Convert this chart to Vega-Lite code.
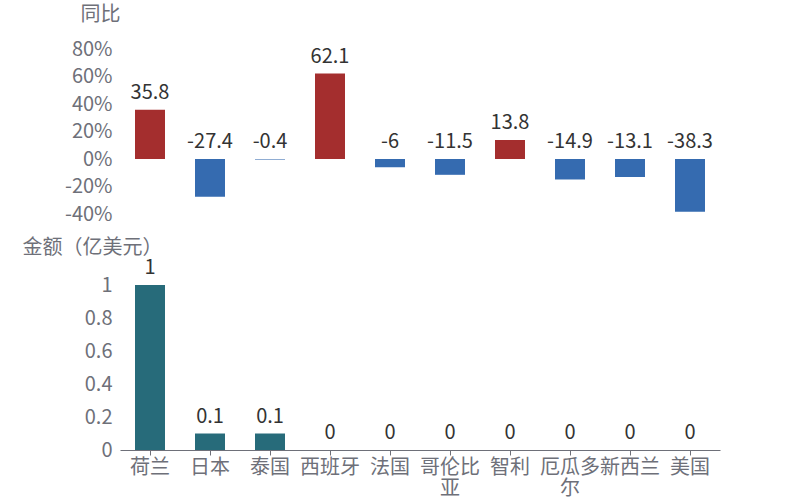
{
  "$schema": "https://vega.github.io/schema/vega-lite/v6.json",
  "padding": {"left": 22, "top": 4, "right": 5, "bottom": 0},
  "bounds": "flush",
  "spacing": 71,
  "config": {
    "view": {"stroke": null},
    "font": "Noto Sans CJK SC",
    "axis": {"grid": false, "labelFont": "Noto Sans CJK SC", "titleFont": "Noto Sans CJK SC", "labelOverlap": false}
  },
  "data": {
    "values": [
      {"country": "荷兰", "yoy": 35.8, "amount": 1},
      {"country": "日本", "yoy": -27.4, "amount": 0.1},
      {"country": "泰国", "yoy": -0.4, "amount": 0.1},
      {"country": "西班牙", "yoy": 62.1, "amount": 0},
      {"country": "法国", "yoy": -6, "amount": 0},
      {"country": "哥伦比亚", "yoy": -11.5, "amount": 0},
      {"country": "智利", "yoy": 13.8, "amount": 0},
      {"country": "厄瓜多尔", "yoy": -14.9, "amount": 0},
      {"country": "新西兰", "yoy": -13.1, "amount": 0},
      {"country": "美国", "yoy": -38.3, "amount": 0}
    ]
  },
  "vconcat": [
    {
      "width": 600,
      "height": 165,
      "encoding": {
        "x": {"field": "country", "type": "nominal", "sort": null, "axis": null,
              "scale": {"paddingInner": 0.5, "paddingOuter": 0.25}}
      },
      "layer": [
        {
          "mark": {"type": "bar"},
          "encoding": {
            "y": {"field": "yoy", "type": "quantitative",
                  "scale": {"domain": [-40, 80], "nice": false},
                  "axis": {
                    "values": [-40, -20, 0, 20, 40, 60, 80],
                    "tickCount": 20,
                    "labelExpr": "datum.value + '%'",
                    "labelOverlap": false,
                    "domain": false, "ticks": false,
                    "labelFontSize": 20, "labelColor": "#6e7079", "labelPadding": 8,
                    "title": "同比", "titleAngle": 0, "titleFontSize": 20, "titleFontWeight": "normal",
                    "titleColor": "#6e7079", "titleX": -20, "titleY": -35,
                    "titleAlign": "center", "titleBaseline": "middle"
                  }},
            "color": {"condition": {"test": "datum.yoy > 0", "value": "#a42e2e"}, "value": "#356bb0"}
          }
        },
        {
          "transform": [{"filter": "datum.yoy > 0"}],
          "mark": {"type": "text", "fontSize": 20, "color": "#333333", "baseline": "middle", "dy": -17},
          "encoding": {
            "y": {"field": "yoy", "type": "quantitative"},
            "text": {"field": "yoy", "type": "nominal"}
          }
        },
        {
          "transform": [{"filter": "datum.yoy <= 0"}],
          "mark": {"type": "text", "fontSize": 20, "color": "#333333", "baseline": "middle", "dy": -17},
          "encoding": {
            "y": {"datum": 0, "type": "quantitative"},
            "text": {"field": "yoy", "type": "nominal"}
          }
        }
      ]
    },
    {
      "width": 600,
      "height": 165,
      "encoding": {
        "x": {"field": "country", "type": "nominal", "sort": null,
              "scale": {"paddingInner": 0.5, "paddingOuter": 0.25},
              "axis": {
                "title": null, "labelAngle": 0, "labelFontSize": 20, "labelColor": "#6e7079",
                "domainColor": "#6e7079", "tickColor": "#6e7079", "tickSize": 5, "labelPadding": 2,
                "labelLineHeight": 21, "labelBaseline": "top",
                "labelExpr": "length(datum.label) > 3 ? [substring(datum.label, 0, 3), substring(datum.label, 3)] : datum.label"
              }}
      },
      "layer": [
        {
          "mark": {"type": "bar", "color": "#276b7a"},
          "encoding": {
            "y": {"field": "amount", "type": "quantitative",
                  "scale": {"domain": [0, 1], "nice": false},
                  "axis": {
                    "values": [0, 0.2, 0.4, 0.6, 0.8, 1],
                    "tickCount": 20,
                    "format": "~g",
                    "labelOverlap": false,
                    "domain": false, "ticks": false,
                    "labelFontSize": 20, "labelColor": "#6e7079", "labelPadding": 8,
                    "title": "金额（亿美元）", "titleAngle": 0, "titleFontSize": 20, "titleFontWeight": "normal",
                    "titleColor": "#6e7079", "titleX": -28, "titleY": -38,
                    "titleAlign": "center", "titleBaseline": "middle"
                  }}
          }
        },
        {
          "mark": {"type": "text", "fontSize": 20, "color": "#333333", "baseline": "middle", "dy": -17},
          "encoding": {
            "y": {"field": "amount", "type": "quantitative"},
            "text": {"field": "amount", "type": "nominal"}
          }
        }
      ]
    }
  ]
}
